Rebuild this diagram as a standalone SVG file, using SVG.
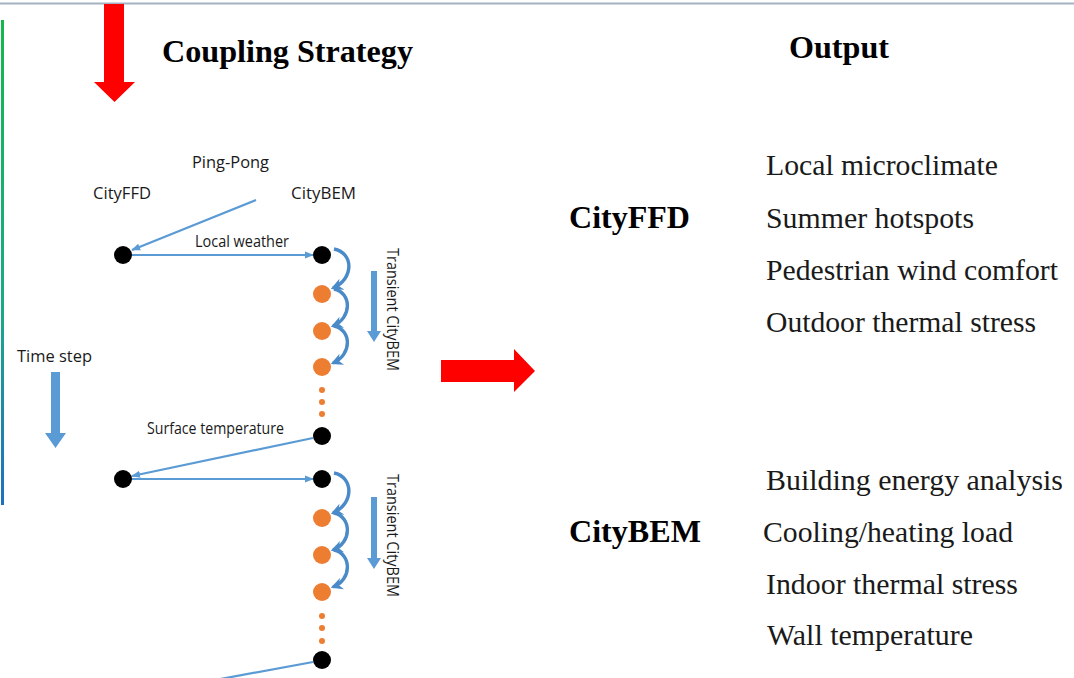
<svg xmlns="http://www.w3.org/2000/svg" width="1074" height="678" viewBox="0 0 1074 678">
<defs>
<linearGradient id="lg" gradientUnits="userSpaceOnUse" x1="0" y1="20" x2="0" y2="505">
<stop offset="0" stop-color="#14b84a"/>
<stop offset="0.6" stop-color="#1aa88a"/>
<stop offset="1" stop-color="#1f6fc0"/>
</linearGradient>
<marker id="ah" viewBox="0 0 10 10" refX="9" refY="5" markerWidth="9" markerHeight="9" orient="auto" markerUnits="userSpaceOnUse">
<path d="M0,1 L10,5 L0,9 Z" fill="#5b9bd5"/>
</marker>
<marker id="ahc" viewBox="0 0 10 10" refX="8" refY="5" markerWidth="12" markerHeight="12" orient="auto" markerUnits="userSpaceOnUse">
<path d="M0,0 L10,5 L0,10 L3,5 Z" fill="#4a8ac8"/>
</marker>
<style>
.title{font-family:"Liberation Serif","Times New Roman",serif;font-weight:bold;font-size:31px;fill:#000}
.item{font-family:"Liberation Serif","Times New Roman",serif;font-size:29px;fill:#1a1a1a}
.lab{font-family:"Open Sans","Liberation Sans",Arial,sans-serif;font-size:16px;fill:#1a1a1a}
.con{stroke:#5b9bd5;stroke-width:2.2;fill:none}
.curve{stroke:#4a8ac8;stroke-width:3.4;fill:none}
.blk{fill:#000}
.org{fill:#ed7d31}
.big{fill:#5b9bd5}
.red{fill:#ff0000}
</style>
</defs>
<rect width="1074" height="678" fill="#ffffff"/>
<line x1="0" y1="3.5" x2="1074" y2="3.5" stroke="#a3b1c2" stroke-width="2"/>
<rect x="1" y="20" width="3" height="485" fill="url(#lg)"/>

<g id="red-down-arrow"><polygon class="red" points="104,4 124,4 124,82 135,82 114.5,102 94,82 104,82"/></g>
<g id="red-right-arrow"><polygon class="red" points="441,360 514,360 514,349 535,371 514,392 514,382 441,382"/></g>

<g id="title-coupling"><text class="title" x="162" y="62" textLength="251" lengthAdjust="spacingAndGlyphs">Coupling Strategy</text></g>
<g id="title-output"><text class="title" x="789" y="58" textLength="100" lengthAdjust="spacingAndGlyphs">Output</text></g>

<g id="labels-left">
<text class="lab" x="192" y="168" textLength="77" lengthAdjust="spacingAndGlyphs">Ping-Pong</text>
<text class="lab" x="93" y="199" textLength="58" lengthAdjust="spacingAndGlyphs">CityFFD</text>
<text class="lab" x="291" y="199" textLength="65" lengthAdjust="spacingAndGlyphs">CityBEM</text>
<text class="lab" x="195" y="247" textLength="94" lengthAdjust="spacingAndGlyphs">Local weather</text>
<text class="lab" x="17" y="362" textLength="75" lengthAdjust="spacingAndGlyphs">Time step</text>
<text class="lab" x="147" y="434" textLength="137" lengthAdjust="spacingAndGlyphs">Surface temperature</text>
<text class="lab" transform="translate(387,248) rotate(90)" textLength="123" lengthAdjust="spacingAndGlyphs">Transient CityBEM</text>
<text class="lab" transform="translate(387,474) rotate(90)" textLength="123" lengthAdjust="spacingAndGlyphs">Transient CityBEM</text>
</g>

<g id="time-step-arrow"><polygon class="big" points="51,372 60,372 60,433 66,433 55.5,448 45,433 51,433"/></g>
<g id="transient-arrow-1"><polygon class="big" points="371,271 377,271 377,331 381,331 374,342 367,331 371,331"/></g>
<g id="transient-arrow-2"><polygon class="big" points="371,497 377,497 377,558 381,558 374,569 367,558 371,558"/></g>

<g id="connectors">
<line class="con" x1="256" y1="200" x2="132" y2="250" marker-end="url(#ah)"/>
<line class="con" x1="132" y1="255" x2="313" y2="255" marker-end="url(#ah)"/>
<line class="con" x1="313" y1="438" x2="132" y2="476" marker-end="url(#ah)"/>
<line class="con" x1="132" y1="479" x2="313" y2="479" marker-end="url(#ah)"/>
<line class="con" x1="313" y1="662" x2="215" y2="680"/>
<path class="curve" d="M334,249 C354,253 354,279 333,288" marker-end="url(#ahc)"/>
<path class="curve" d="M334,289 C352,293 352,318 333,326" marker-end="url(#ahc)"/>
<path class="curve" d="M334,326 C352,330 352,355 333,363" marker-end="url(#ahc)"/>
<path class="curve" d="M334,473 C354,477 354,504 333,513" marker-end="url(#ahc)"/>
<path class="curve" d="M334,513 C352,517 352,543 333,550" marker-end="url(#ahc)"/>
<path class="curve" d="M334,550 C352,554 352,580 333,587" marker-end="url(#ahc)"/>
</g>

<g id="node-ffd-1"><circle class="blk" cx="123" cy="255" r="9"/></g>
<g id="node-bem-1"><circle class="blk" cx="322" cy="255" r="9"/></g>
<g id="node-o1"><circle class="org" cx="322" cy="294" r="9"/></g>
<g id="node-o2"><circle class="org" cx="322" cy="331" r="9"/></g>
<g id="node-o3"><circle class="org" cx="322" cy="367" r="9"/></g>
<g id="dots-1"><circle class="org" cx="322" cy="390" r="3"/><circle class="org" cx="322" cy="402" r="3"/><circle class="org" cx="322" cy="414" r="3"/></g>
<g id="node-bem-2"><circle class="blk" cx="322" cy="436" r="9"/></g>
<g id="node-ffd-2"><circle class="blk" cx="123" cy="479" r="9"/></g>
<g id="node-bem-3"><circle class="blk" cx="322" cy="479" r="9"/></g>
<g id="node-o4"><circle class="org" cx="322" cy="518" r="9"/></g>
<g id="node-o5"><circle class="org" cx="322" cy="555" r="9"/></g>
<g id="node-o6"><circle class="org" cx="322" cy="592" r="9"/></g>
<g id="dots-2"><circle class="org" cx="322" cy="616" r="3"/><circle class="org" cx="322" cy="628" r="3"/><circle class="org" cx="322" cy="641" r="3"/></g>
<g id="node-bem-4"><circle class="blk" cx="322" cy="660" r="9"/></g>

<g id="output-cityffd">
<text class="title" x="569" y="228" textLength="121" lengthAdjust="spacingAndGlyphs">CityFFD</text>
<text class="item" x="766" y="175" textLength="232" lengthAdjust="spacingAndGlyphs">Local microclimate</text>
<text class="item" x="766" y="228" textLength="208" lengthAdjust="spacingAndGlyphs">Summer hotspots</text>
<text class="item" x="766" y="280" textLength="292" lengthAdjust="spacingAndGlyphs">Pedestrian wind comfort</text>
<text class="item" x="766" y="332" textLength="270" lengthAdjust="spacingAndGlyphs">Outdoor thermal stress</text>
</g>
<g id="output-citybem">
<text class="title" x="569" y="542" textLength="132" lengthAdjust="spacingAndGlyphs">CityBEM</text>
<text class="item" x="766" y="490" textLength="297" lengthAdjust="spacingAndGlyphs">Building energy analysis</text>
<text class="item" x="763" y="542" textLength="250" lengthAdjust="spacingAndGlyphs">Cooling/heating load</text>
<text class="item" x="766" y="594" textLength="252" lengthAdjust="spacingAndGlyphs">Indoor thermal stress</text>
<text class="item" x="767" y="645" textLength="206" lengthAdjust="spacingAndGlyphs">Wall temperature</text>
</g>
</svg>
